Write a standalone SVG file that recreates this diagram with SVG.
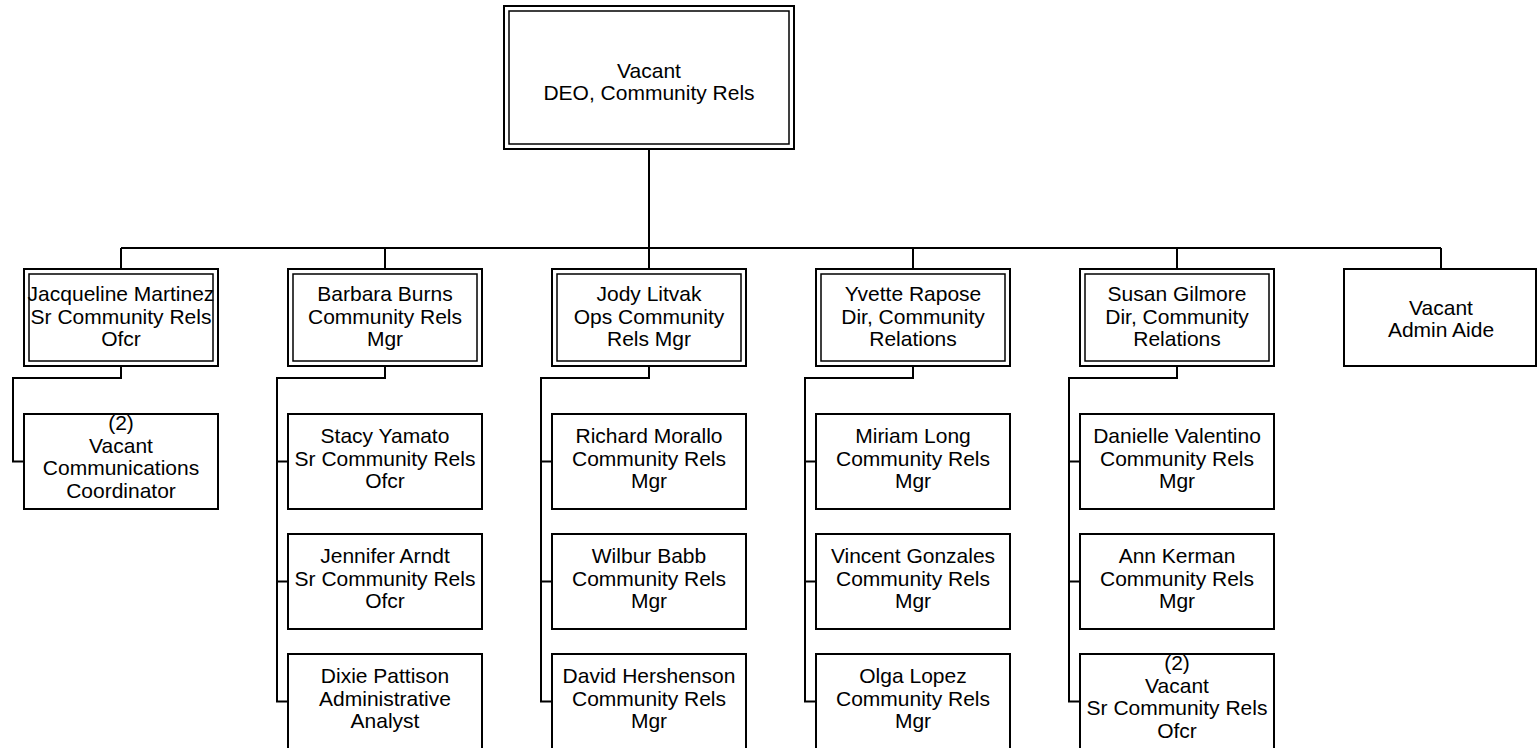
<svg xmlns="http://www.w3.org/2000/svg" width="1537" height="748" viewBox="0 0 1537 748">
<style>
.o{fill:#fff;stroke:#000;stroke-width:2}
.i{fill:none;stroke:#000;stroke-width:1.5}
.c{fill:none;stroke:#000;stroke-width:2}
text{font-family:"Liberation Sans",Arial,sans-serif;font-size:21px;text-anchor:middle;fill:#000}
</style>
<rect width="1537" height="748" fill="#fff"/>
<g id="connectors">
<path class="c" d="M649 149V248M121 248H1441M121 248V269M385 248V269M649 248V269M913 248V269M1177 248V269M1441 248V269"/>
<path class="c" d="M121 366V378H13V461.5H24"/>
<path class="c" d="M385 366V378H277V701.5H288M277 461.5H288M277 581.5H288"/>
<path class="c" d="M649 366V378H541V701.5H552M541 461.5H552M541 581.5H552"/>
<path class="c" d="M913 366V378H805V701.5H816M805 461.5H816M805 581.5H816"/>
<path class="c" d="M1177 366V378H1069V701.5H1080M1069 461.5H1080M1069 581.5H1080"/>
</g>
<g id="deo">
<rect class="o" x="504" y="6" width="290" height="143"/><rect class="i" x="509" y="11" width="280" height="133"/>
<text x="649" y="78">Vacant</text><text x="649" y="100">DEO, Community Rels</text>
</g>
<g id="martinez">
<rect class="o" x="24" y="269" width="194" height="97"/><rect class="i" x="29" y="274" width="184" height="87"/>
<text x="121" y="301">Jacqueline Martinez</text><text x="121" y="323.5">Sr Community Rels</text><text x="121" y="346">Ofcr</text>
</g>
<g id="burns">
<rect class="o" x="288" y="269" width="194" height="97"/><rect class="i" x="293" y="274" width="184" height="87"/>
<text x="385" y="301">Barbara Burns</text><text x="385" y="323.5">Community Rels</text><text x="385" y="346">Mgr</text>
</g>
<g id="litvak">
<rect class="o" x="552" y="269" width="194" height="97"/><rect class="i" x="557" y="274" width="184" height="87"/>
<text x="649" y="301">Jody Litvak</text><text x="649" y="323.5">Ops Community</text><text x="649" y="346">Rels Mgr</text>
</g>
<g id="rapose">
<rect class="o" x="816" y="269" width="194" height="97"/><rect class="i" x="821" y="274" width="184" height="87"/>
<text x="913" y="301">Yvette Rapose</text><text x="913" y="323.5">Dir, Community</text><text x="913" y="346">Relations</text>
</g>
<g id="gilmore">
<rect class="o" x="1080" y="269" width="194" height="97"/><rect class="i" x="1085" y="274" width="184" height="87"/>
<text x="1177" y="301">Susan Gilmore</text><text x="1177" y="323.5">Dir, Community</text><text x="1177" y="346">Relations</text>
</g>
<g id="admin-aide">
<rect class="o" x="1344" y="269" width="192" height="97"/>
<text x="1441" y="315">Vacant</text><text x="1441" y="337">Admin Aide</text>
</g>
<g id="comm-coord">
<rect class="o" x="24" y="414" width="194" height="95"/>
<text x="121" y="430">(2)</text><text x="121" y="452.5">Vacant</text><text x="121" y="475">Communications</text><text x="121" y="497.5">Coordinator</text>
</g>
<g id="yamato">
<rect class="o" x="288" y="414" width="194" height="95"/>
<text x="385" y="443">Stacy Yamato</text><text x="385" y="465.5">Sr Community Rels</text><text x="385" y="488">Ofcr</text>
</g>
<g id="arndt">
<rect class="o" x="288" y="534" width="194" height="95"/>
<text x="385" y="563">Jennifer Arndt</text><text x="385" y="585.5">Sr Community Rels</text><text x="385" y="608">Ofcr</text>
</g>
<g id="pattison">
<rect class="o" x="288" y="654" width="194" height="95"/>
<text x="385" y="683">Dixie Pattison</text><text x="385" y="705.5">Administrative</text><text x="385" y="728">Analyst</text>
</g>
<g id="morallo">
<rect class="o" x="552" y="414" width="194" height="95"/>
<text x="649" y="443">Richard Morallo</text><text x="649" y="465.5">Community Rels</text><text x="649" y="488">Mgr</text>
</g>
<g id="babb">
<rect class="o" x="552" y="534" width="194" height="95"/>
<text x="649" y="563">Wilbur Babb</text><text x="649" y="585.5">Community Rels</text><text x="649" y="608">Mgr</text>
</g>
<g id="hershenson">
<rect class="o" x="552" y="654" width="194" height="95"/>
<text x="649" y="683">David Hershenson</text><text x="649" y="705.5">Community Rels</text><text x="649" y="728">Mgr</text>
</g>
<g id="long">
<rect class="o" x="816" y="414" width="194" height="95"/>
<text x="913" y="443">Miriam Long</text><text x="913" y="465.5">Community Rels</text><text x="913" y="488">Mgr</text>
</g>
<g id="gonzales">
<rect class="o" x="816" y="534" width="194" height="95"/>
<text x="913" y="563">Vincent Gonzales</text><text x="913" y="585.5">Community Rels</text><text x="913" y="608">Mgr</text>
</g>
<g id="lopez">
<rect class="o" x="816" y="654" width="194" height="95"/>
<text x="913" y="683">Olga Lopez</text><text x="913" y="705.5">Community Rels</text><text x="913" y="728">Mgr</text>
</g>
<g id="valentino">
<rect class="o" x="1080" y="414" width="194" height="95"/>
<text x="1177" y="443">Danielle Valentino</text><text x="1177" y="465.5">Community Rels</text><text x="1177" y="488">Mgr</text>
</g>
<g id="kerman">
<rect class="o" x="1080" y="534" width="194" height="95"/>
<text x="1177" y="563">Ann Kerman</text><text x="1177" y="585.5">Community Rels</text><text x="1177" y="608">Mgr</text>
</g>
<g id="sr-ofcr-vacant">
<rect class="o" x="1080" y="654" width="194" height="95"/>
<text x="1177" y="670">(2)</text><text x="1177" y="692.5">Vacant</text><text x="1177" y="715">Sr Community Rels</text><text x="1177" y="737.5">Ofcr</text>
</g>
</svg>
